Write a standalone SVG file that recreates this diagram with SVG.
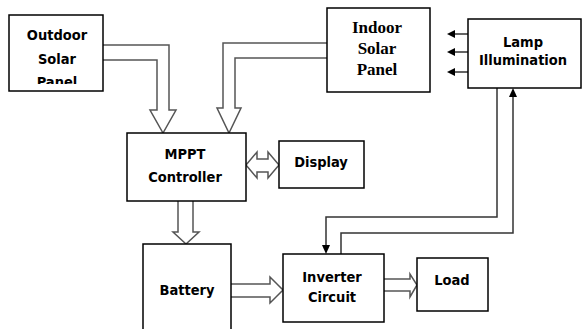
<svg xmlns="http://www.w3.org/2000/svg" width="582" height="329" viewBox="0 0 582 329">
<style>
.box{fill:#fff;stroke:#000;stroke-width:1.5}
.t{font-family:"DejaVu Sans Condensed","DejaVu Sans",sans-serif;font-weight:bold;font-size:14.5px;text-anchor:middle;fill:#000}
.ts{font-family:"Liberation Serif",serif;font-weight:bold;font-size:17px;text-anchor:middle;fill:#000}
.ha{fill:#fff;stroke:#555;stroke-width:1.5;stroke-linejoin:miter}
.ln{fill:none;stroke:#333;stroke-width:1.5}
.hd{fill:#000}
</style>
<defs>
<clipPath id="cOut"><rect x="9" y="15" width="94" height="69"/></clipPath>
</defs>
<rect width="582" height="329" fill="#fff"/>
<g id="connectors">
<path class="ha" d="M103,45 H169 V110 H176 L163,133 L150,110 H157 V60 H103"/>
<path class="ha" d="M327,43 H223 V108 H217 L229,133 L241,108 H235 V58 H327"/>
<path class="ha" d="M178,201 V232 H173 L186,244 L199,232 H193 V201"/>
<path class="ha" d="M246,165 L257,152 V159 H268 V152 L279,165 L268,178 V172 H257 V178 Z"/>
<path class="ha" d="M231,284 H270 V277 L283,290 L270,303 V297 H231"/>
<path class="ha" d="M384,279 H410 V274 L417,285 L410,297 V291 H384"/>
<path class="ln" d="M468,34 H454 M468,52 H454 M468,72 H454"/>
<polygon class="hd" points="447,34 455,30 455,38"/>
<polygon class="hd" points="447,52 455,48 455,56"/>
<polygon class="hd" points="447,72 455,68 455,76"/>
<path class="ln" d="M497,88 V217 H326 V246"/>
<polygon class="hd" points="326,254 322,245 330,245"/>
<path class="ln" d="M341,254 V233 H513 V97"/>
<polygon class="hd" points="513,88 509,97 517,97"/>
</g>
<g id="outdoor">
<rect class="box" x="9" y="15" width="94" height="76"/>
<g clip-path="url(#cOut)">
<text class="t" x="57" y="40">Outdoor</text>
<text class="t" x="57" y="64">Solar</text>
<text class="t" x="57" y="87">Panel</text>
</g>
</g>
<g id="indoor">
<rect class="box" x="327" y="8" width="103" height="84"/>
<text class="ts" x="377" y="33">Indoor</text>
<text class="ts" x="377" y="54">Solar</text>
<text class="ts" x="377" y="75">Panel</text>
</g>
<g id="lamp">
<rect class="box" x="468" y="19" width="113" height="69"/>
<text class="t" x="523" y="47">Lamp</text>
<text class="t" x="523" y="65">Illumination</text>
</g>
<g id="mppt">
<rect class="box" x="127" y="133" width="119" height="68"/>
<text class="t" x="185" y="159">MPPT</text>
<text class="t" x="185" y="182">Controller</text>
</g>
<g id="display">
<rect class="box" x="279" y="141" width="85" height="47"/>
<text class="t" x="321" y="167">Display</text>
</g>
<g id="battery">
<path class="box" d="M143,331 V244 H231 V331"/>
<text class="t" x="187" y="295">Battery</text>
</g>
<g id="inverter">
<rect class="box" x="283" y="254" width="101" height="68"/>
<text class="t" x="332" y="282">Inverter</text>
<text class="t" x="332" y="302">Circuit</text>
</g>
<g id="load">
<rect class="box" x="417" y="258" width="71" height="53"/>
<text class="t" x="452" y="285">Load</text>
</g>
</svg>
